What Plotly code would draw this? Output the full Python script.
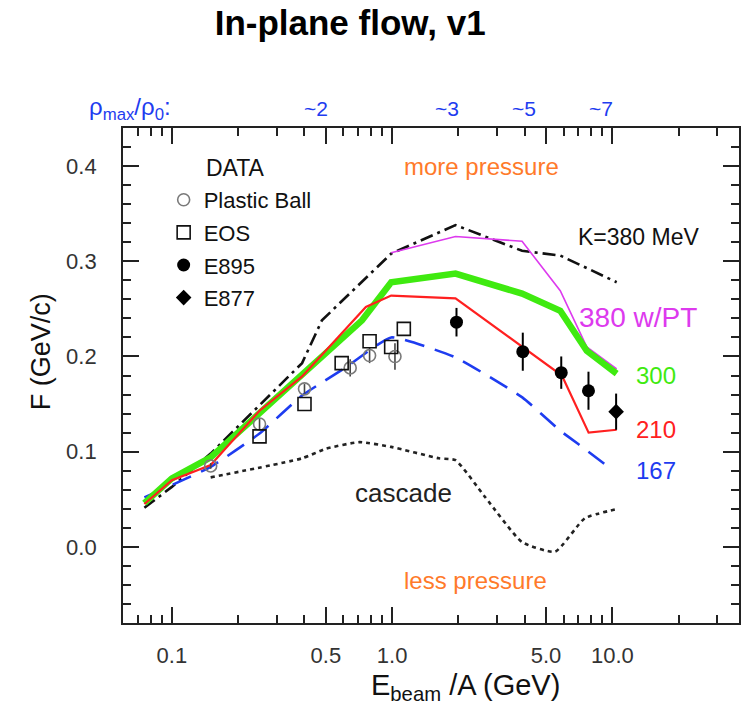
import math
import plotly.graph_objects as go

# ---------------- data ----------------
green_E = [0.075, 0.10, 0.15, 0.25, 0.39, 0.73, 0.99, 1.94, 3.89, 5.8, 7.65, 10.46]
green_F = [0.046, 0.072, 0.094, 0.141, 0.180, 0.238, 0.278, 0.287, 0.266, 0.248, 0.206, 0.182]

red_E = [0.075, 0.10, 0.15, 0.25, 0.39, 0.76, 0.99, 1.94, 5.9, 7.8, 10.46]
red_F = [0.045, 0.070, 0.086, 0.143, 0.179, 0.252, 0.264, 0.261, 0.180, 0.120, 0.123]

blue_E = [0.075, 0.15, 0.25, 0.39, 0.62, 0.99, 1.94, 3.9, 5.8, 7.0, 9.6]
blue_F = [0.052, 0.084, 0.119, 0.159, 0.189, 0.220, 0.199, 0.157, 0.122, 0.108, 0.084]

mag_E = [0.99, 1.94, 3.89, 5.8, 7.65, 10.46]
mag_F = [0.309, 0.326, 0.321, 0.269, 0.210, 0.187]

dd_E = [0.075, 0.10, 0.15, 0.39, 0.48, 0.99, 1.94, 3.89, 5.8, 10.46]
dd_F = [0.041, 0.063, 0.098, 0.193, 0.238, 0.308, 0.338, 0.311, 0.306, 0.278]

casc_E = [0.15, 0.39, 0.50, 0.71, 0.99, 1.63, 1.94, 2.65, 3.89, 5.5, 7.5, 10.65]
casc_F = [0.073, 0.093, 0.103, 0.110, 0.105, 0.093, 0.091, 0.052, 0.005, -0.005, 0.030, 0.040]

pb_E = [0.15, 0.25, 0.40, 0.645, 0.79, 1.03]
pb_F = [0.085, 0.129, 0.166, 0.188, 0.201, 0.200]
pb_err = [0.003, 0.006, 0.005, 0.009, 0.008, 0.014]

eos_E = [0.25, 0.40, 0.59, 0.79, 0.99, 1.13]
eos_F = [0.116, 0.150, 0.193, 0.216, 0.210, 0.229]

e895_E = [1.96, 3.92, 5.86, 7.79]
e895_F = [0.236, 0.205, 0.183, 0.164]
e895_err = [0.015, 0.020, 0.017, 0.020]

e877_E = [10.4]
e877_F = [0.142]
e877_err = [0.019]

x_tickvals = [0.1, 0.5, 1.0, 5.0, 10.0]
x_ticktext = ["0.1", "0.5", "1.0", "5.0", "10.0"]
x_minor = [0.07, 0.08, 0.09, 0.2, 0.3, 0.4, 0.6, 0.7, 0.8, 0.9,
           2, 3, 4, 6, 7, 8, 9, 20, 30]
y_tickvals = [0.0, 0.1, 0.2, 0.3, 0.4]
y_ticktext = ["0.0", "0.1", "0.2", "0.3", "0.4"]

density_labels = ["~2", "~3", "~5", "~7"]
density_E = [0.45, 1.77, 3.95, 8.9]

FONT = "Liberation Sans, Arial, sans-serif"
GREEN = "#3FEA10"
RED = "#FF2020"
BLUE = "#1E3CF0"
MAG = "#DD3AEE"
ORANGE = "#FF7A2A"

fig = go.Figure()

# model curves
fig.add_trace(go.Scatter(x=casc_E, y=casc_F, mode="lines", showlegend=False,
                         line=dict(color="#222", width=2.6, dash="4px,4px",
                                   shape="spline", smoothing=0.5)))
fig.add_trace(go.Scatter(x=dd_E, y=dd_F, mode="lines", showlegend=False,
                         line=dict(color="#111", width=2.6, dash="13px,5px,3px,5px")))
fig.add_trace(go.Scatter(x=blue_E, y=blue_F, mode="lines", showlegend=False,
                         line=dict(color=BLUE, width=2.6, dash="20px,11px",
                                   shape="spline", smoothing=0.4)))
fig.add_trace(go.Scatter(x=mag_E, y=mag_F, mode="lines", showlegend=False,
                         line=dict(color=MAG, width=1.6)))
fig.add_trace(go.Scatter(x=green_E, y=green_F, mode="lines", showlegend=False,
                         line=dict(color=GREEN, width=6.5)))
fig.add_trace(go.Scatter(x=red_E, y=red_F, mode="lines", showlegend=False,
                         line=dict(color=RED, width=2.2)))

# data points
fig.add_trace(go.Scatter(x=pb_E, y=pb_F, mode="markers", name="Plastic Ball",
                         legendgroup="a",
                         marker=dict(symbol="circle-open", size=12, color="#7a7a7a",
                                     line=dict(width=1.6, color="#7a7a7a")),
                         error_y=dict(type="data", array=pb_err, color="#444",
                                      thickness=1.6, width=0)))
fig.add_trace(go.Scatter(x=eos_E, y=eos_F, mode="markers", name="EOS",
                         legendgroup="b",
                         marker=dict(symbol="square-open", size=13, color="#111",
                                     line=dict(width=1.6, color="#111"))))
fig.add_trace(go.Scatter(x=e895_E, y=e895_F, mode="markers", name="E895",
                         legendgroup="c",
                         marker=dict(symbol="circle", size=13, color="#000"),
                         error_y=dict(type="data", array=e895_err, color="#000",
                                      thickness=2, width=0)))
fig.add_trace(go.Scatter(x=e877_E, y=e877_F, mode="markers", name="E877",
                         legendgroup="d",
                         marker=dict(symbol="diamond", size=12, color="#000"),
                         error_y=dict(type="data", array=e877_err, color="#000",
                                      thickness=2, width=0)))

ann = []
def txt(x, y, s, color="#111", size=21, xref="x", yref="y", xanchor="center", **kw):
    ann.append(dict(x=x, y=y, text=s, xref=xref, yref=yref, showarrow=False,
                    xanchor=xanchor, yanchor="middle",
                    font=dict(family=FONT, size=size, color=color), **kw))

lg = math.log10
# curve labels (data coords; log axis uses log10 values)
txt(lg(2.55), 0.400, "more pressure", ORANGE, 24)
txt(lg(2.40), -0.035, "less pressure", ORANGE, 24)
txt(lg(1.13), 0.057, "cascade", "#222", 26)
txt(lg(13.2), 0.326, "K=380 MeV", "#111", 23)
txt(lg(13.1), 0.241, "380 w/PT", MAG, 28)
txt(lg(15.8), 0.180, "300", GREEN, 24)
txt(lg(15.8), 0.123, "210", RED, 24)
txt(lg(15.8), 0.080, "167", BLUE, 24)

# density labels above the frame
for s, e in zip(density_labels, density_E):
    txt(lg(e), 1.040, s, BLUE, 21, yref="paper")
txt(-0.058, 1.040, "ρ<sub>max</sub>/ρ<sub>0</sub>:", BLUE, 24,
    xref="paper", yref="paper", xanchor="left")

# legend header
txt(0.131, 0.92, "DATA", "#111", 23, xref="paper", yref="paper", xanchor="left")

# axis titles
txt(-0.133, 0.547, "F (GeV/c)", "#111", 27, xref="paper", yref="paper", textangle=-90)
txt(0.556, -0.13, "E<sub>beam</sub> /A (GeV)", "#111", 29, xref="paper", yref="paper")

fig.update_layout(
    width=753, height=707,
    margin=dict(l=123, r=12, t=128, b=84),
    paper_bgcolor="white", plot_bgcolor="white",
    font=dict(family=FONT, color="#222"),
    title=dict(text="<b>In-plane flow, v1</b>", x=0.465, xanchor="center",
               y=0.968, yanchor="middle",
               font=dict(family=FONT, size=35, color="#000")),
    annotations=ann,
    legend=dict(x=0.066, y=0.897, xanchor="left", yanchor="top",
                bgcolor="rgba(0,0,0,0)", font=dict(family=FONT, size=22, color="#111"),
                tracegroupgap=1, itemsizing="trace"),
    showlegend=True,
)

fig.update_xaxes(type="log", range=[-1.222, 1.575],
                 tickvals=x_tickvals, ticktext=x_ticktext,
                 ticks="inside", ticklen=16, tickwidth=1.5, tickcolor="#222",
                 minor=dict(tickvals=x_minor, ticks="inside", ticklen=8,
                            tickwidth=1.5, tickcolor="#222"),
                 showline=True, linewidth=1.8, linecolor="#222", mirror="allticks",
                 showgrid=False, zeroline=False, ticklabelstandoff=12,
                 tickfont=dict(family=FONT, size=22, color="#333"))
fig.update_yaxes(range=[-0.08, 0.44],
                 tickvals=y_tickvals, ticktext=y_ticktext,
                 ticks="inside", ticklen=16, tickwidth=1.5, tickcolor="#222",
                 minor=dict(dtick=0.02, tick0=0, ticks="inside", ticklen=8,
                            tickwidth=1.5, tickcolor="#222"),
                 showline=True, linewidth=1.8, linecolor="#222", mirror="allticks",
                 showgrid=False, zeroline=False, ticklabelstandoff=20,
                 tickfont=dict(family=FONT, size=22, color="#333"))

fig.write_html("out.html")
